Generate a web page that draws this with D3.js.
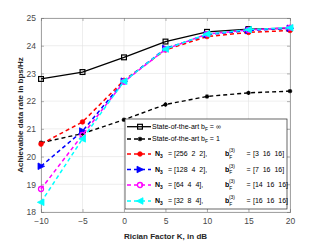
<!DOCTYPE html>
<html><head><meta charset="utf-8">
<script src="https://cdn.jsdelivr.net/npm/d3@7/dist/d3.min.js"></script>
<style>body{margin:0;background:#fff}svg{display:block;font-family:"Liberation Sans",Arial,sans-serif}</style>
</head><body><svg id="c" width="321" height="241"></svg>
<script>
const K = [-10, -5, 0, 5, 10, 15, 20];
const sotaInf = [22.8, 23.05, 23.58, 24.15, 24.5, 24.6, 24.63];
const sota1 = [20.5, 20.83, 21.33, 21.88, 22.17, 22.3, 22.36];
const n256 = [20.45, 21.25, 22.75, 23.85, 24.33, 24.48, 24.55];
const n128 = [19.65, 20.92, 22.72, 23.9, 24.4, 24.55, 24.63];
const n64 = [18.83, 20.78, 22.7, 23.87, 24.42, 24.57, 24.65];
const n32 = [18.35, 20.64, 22.72, 23.88, 24.42, 24.58, 24.65];
const xTicks = [-10, -5, 0, 5, 10, 15, 20];
const yTicks = [18, 19, 20, 21, 22, 23, 24, 25];
const N3labels = ["[256  2  2],", "[128  4  2],", "[64  4  4],", "[32  8  4],"];
const bFlabels = ["[3  16  16]", "[7  16  16]", "[14  16  16]", "[16  16  16]"];
const xLabel = "Rician Factor K, in dB";
const yLabel = "Achievable data rate in bps/Hz";

const nb = s => s.replace(/ /g, "\u00A0");
const svg = d3.select("#c");
const L = 41, R = 290, T = 18, B = 212;
const x = d3.scaleLinear().domain([-10, 20]).range([L, R]);
const y = d3.scaleLinear().domain([18, 25]).range([B, T]);

// grid
const g = svg.append("g");
g.selectAll(".gx").data(xTicks).join("line").attr("x1", d => x(d)).attr("x2", d => x(d))
  .attr("y1", T).attr("y2", B).attr("stroke", "#e3e3e3").attr("stroke-width", 0.6);
g.selectAll(".gy").data(yTicks).join("line").attr("y1", d => y(d)).attr("y2", d => y(d))
  .attr("x1", L).attr("x2", R).attr("stroke", "#e3e3e3").attr("stroke-width", 0.6);

// axes
const ax = svg.append("g").attr("transform", `translate(0,${B})`)
  .call(d3.axisBottom(x).tickValues(xTicks).tickSize(-3).tickPadding(6).tickFormat(d3.format("d")));
const ay = svg.append("g").attr("transform", `translate(${L},0)`)
  .call(d3.axisLeft(y).tickValues(yTicks).tickSize(-3).tickPadding(5).tickFormat(d3.format("d")));
const ax2 = svg.append("g").attr("transform", `translate(0,${T})`)
  .call(d3.axisTop(x).tickValues(xTicks).tickSize(-3).tickFormat(""));
const ay2 = svg.append("g").attr("transform", `translate(${R},0)`)
  .call(d3.axisRight(y).tickValues(yTicks).tickSize(-3).tickFormat(""));
[ax, ay, ax2, ay2].forEach(a => {
  a.selectAll("path").attr("stroke", "#808080").attr("stroke-width", 0.7);
  a.selectAll("line").attr("stroke", "#808080").attr("stroke-width", 0.6);
  a.selectAll("text").attr("fill", "#4a4a4a").attr("font-size", 8.5).attr("font-family", "Liberation Sans, Arial, sans-serif");
});

// axis labels
svg.append("text").attr("x", (L + R) / 2).attr("y", 239).attr("text-anchor", "middle")
  .attr("font-size", 8).attr("font-weight", "bold").attr("fill", "#262626").text(xLabel);
svg.append("text").attr("transform", `translate(23,${(T + B) / 2}) rotate(-90)`).attr("text-anchor", "middle")
  .attr("font-size", 8).attr("font-weight", "bold").attr("fill", "#262626").text(yLabel);

// marker drawing
function marker(sel, type, color, s) {
  if (type === "square") {
    sel.append("rect").attr("x", -s).attr("y", -s).attr("width", 2 * s).attr("height", 2 * s)
      .attr("fill", "none").attr("stroke", color).attr("stroke-width", 1.2);
  } else if (type === "star") {
    const p = d3.path();
    for (let k = 0; k < 4; k++) { const a = k * Math.PI / 4; p.moveTo(-s * Math.cos(a), -s * Math.sin(a)); p.lineTo(s * Math.cos(a), s * Math.sin(a)); }
    sel.append("path").attr("d", p.toString()).attr("stroke", color).attr("stroke-width", 1.1).attr("fill", "none");
  } else if (type === "dot") {
    sel.append("circle").attr("r", s).attr("fill", color).attr("stroke", color).attr("stroke-width", 0.8);
  } else if (type === "circle") {
    sel.append("circle").attr("r", s).attr("fill", "none").attr("stroke", color).attr("stroke-width", 1.3);
  } else if (type === "right") {
    sel.append("path").attr("d", `M${-s},${-s * 1.1}L${s * 1.2},0L${-s},${s * 1.1}Z`).attr("fill", color).attr("stroke", color).attr("stroke-width", 0.8);
  } else if (type === "left") {
    sel.append("path").attr("d", `M${s},${-s * 1.1}L${-s * 1.2},0L${s},${s * 1.1}Z`).attr("fill", color).attr("stroke", color).attr("stroke-width", 0.8);
  }
}

const series = [
  { v: sotaInf, color: "#000", dash: null, m: "square", s: 2.4, w: 1.3 },
  { v: sota1, color: "#000", dash: "4,3", m: "star", s: 2.2, w: 1.4 },
  { v: n256, color: "#ff0000", dash: "4,3", m: "dot", s: 2.3, w: 1.5 },
  { v: n128, color: "#0000ff", dash: "4,3", m: "right", s: 3.0, w: 1.5 },
  { v: n64, color: "#ff00ff", dash: "4,3", m: "circle", s: 2.5, w: 1.5 },
  { v: n32, color: "#00ffff", dash: "4,3", m: "left", s: 3.0, w: 1.5 }
];
const line = d3.line().x((d, i) => x(K[i])).y(d => y(d));
series.forEach(sr => {
  svg.append("path").datum(sr.v).attr("d", line).attr("fill", "none").attr("stroke", sr.color)
    .attr("stroke-width", sr.w).attr("stroke-dasharray", sr.dash);
  sr.v.forEach((d, i) => {
    const gm = svg.append("g").attr("transform", `translate(${x(K[i])},${y(d)})`);
    marker(gm, sr.m, sr.color, sr.s);
  });
});

// legend
const lg = svg.append("g");
lg.append("rect").attr("x", 125).attr("y", 119).attr("width", 162).attr("height", 90)
  .attr("fill", "#fff").attr("stroke", "#262626").attr("stroke-width", 0.7);
const rows = [126.7, 139, 154, 169.5, 185, 201];
const fs = 7;
series.forEach((sr, i) => {
  const yy = rows[i];
  lg.append("line").attr("x1", 127).attr("x2", 151).attr("y1", yy).attr("y2", yy)
    .attr("stroke", sr.color).attr("stroke-width", sr.w).attr("stroke-dasharray", sr.dash ? "4,3" : null);
  marker(lg.append("g").attr("transform", `translate(140,${yy})`), sr.m, sr.color, sr.s);
  if (i < 2) {
    const t = lg.append("text").attr("x", 152).attr("y", yy + 2.4).attr("font-size", fs).attr("fill", "#000");
    t.append("tspan").text("State-of-the-art b");
    t.append("tspan").attr("dy", 1.8).attr("font-size", fs * 0.7).text("F");
    t.append("tspan").attr("dy", -1.8).text(nb(" = ") + (i === 0 ? "\u221E" : "1"));
  } else {
    const j = i - 2;
    const t = lg.append("text").attr("x", 155).attr("y", yy + 2.4).attr("font-size", fs).attr("fill", "#000");
    t.append("tspan").attr("font-weight", "bold").text("N");
    t.append("tspan").attr("font-weight", "bold").attr("dy", 2).attr("font-size", fs * 0.7).text("3");
    t.append("tspan").attr("dy", -2).attr("x", 168).text("=");
    t.append("tspan").attr("x", 174).text(nb(N3labels[j]));
    t.append("tspan").attr("x", 225).attr("font-weight", "bold").text("b");
    t.append("tspan").attr("dy", 2.2).attr("font-size", fs * 0.7).text("F");
    t.append("tspan").attr("dx", -3.4).attr("dy", -6.2).attr("font-size", fs * 0.7).text("(3)");
    t.append("tspan").attr("x", 246.5).attr("dy", 4).text("=");
    t.append("tspan").attr("x", 253).text(nb(bFlabels[j]));
  }
});
</script></body></html>
